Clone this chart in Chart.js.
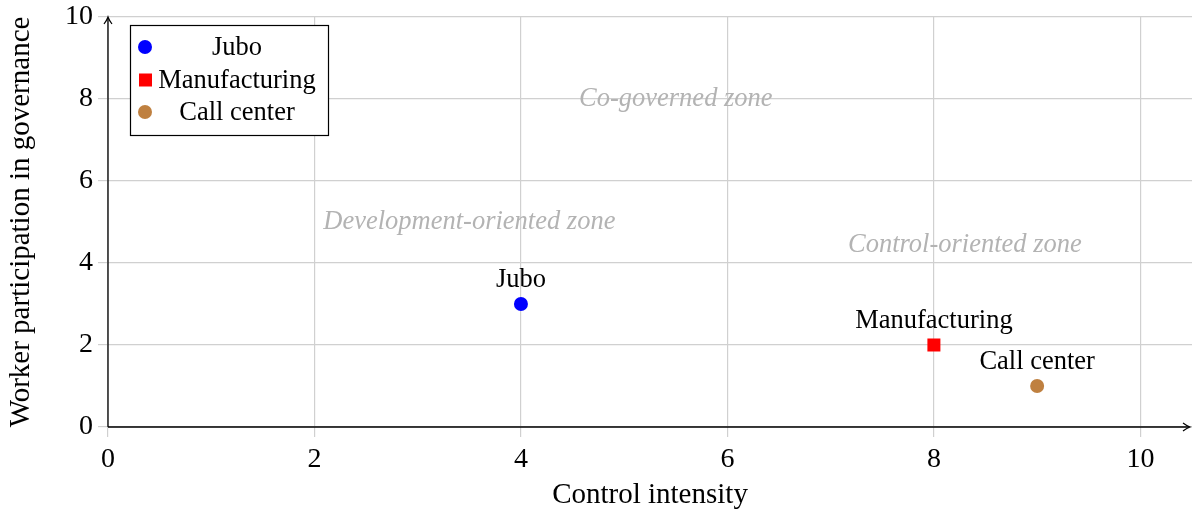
<!DOCTYPE html>
<html><head><meta charset="utf-8">
<script src="https://cdn.jsdelivr.net/npm/chart.js@4.4.1/dist/chart.umd.min.js"></script>
<style>html,body{margin:0;padding:0;background:#fff}#wrap{width:1192px;height:513px}</style>
</head><body><div id="wrap"><canvas id="c" width="1192" height="513"></canvas></div>
<script>
const seriesNames = ["Jubo", "Manufacturing", "Call center"];
const seriesX = [4, 8, 9];
const seriesY = [3, 2, 1];
const seriesColors = ["#0000ff", "#ff0000", "#bf8040"];
const seriesStyles = ["circle", "rect", "circle"];
const xTicks = [0, 2, 4, 6, 8, 10];
const yTicks = [0, 2, 4, 6, 8, 10];
const zoneLabels = ["Co-governed zone", "Development-oriented zone", "Control-oriented zone"];
const zoneX = [5.5, 3.5, 8.3];
const zoneY = [8, 5, 4.45];
const xTitle = "Control intensity";
const yTitle = "Worker participation in governance";

const FONT = "'Liberation Serif', 'Times New Roman', serif";

const datasets = seriesNames.map((n, i) => ({
  label: n,
  data: [{x: seriesX[i], y: seriesY[i]}],
  backgroundColor: seriesColors[i],
  borderColor: seriesColors[i],
  pointStyle: seriesStyles[i],
  pointRadius: seriesStyles[i] === 'rect' ? 9.2 : 7,
  pointHoverRadius: seriesStyles[i] === 'rect' ? 9.2 : 7,
  borderWidth: 0
}));

const overlay = {
  id: 'overlay',
  afterDatasetsDraw(chart) {
    const ctx = chart.ctx, xs = chart.scales.x, ys = chart.scales.y, ca = chart.chartArea;
    ctx.save();
    ctx.font = "italic 26.5px " + FONT;
    ctx.fillStyle = "#b3b3b3";
    ctx.textAlign = "center"; ctx.textBaseline = "middle";
    zoneLabels.forEach((t, i) => ctx.fillText(t, xs.getPixelForValue(zoneX[i]), ys.getPixelForValue(zoneY[i])));
    ctx.font = "26.5px " + FONT;
    ctx.fillStyle = "#000";
    seriesNames.forEach((t, i) => ctx.fillText(t, xs.getPixelForValue(seriesX[i]), ys.getPixelForValue(seriesY[i]) - 24));
    const x0 = xs.getPixelForValue(0), y0 = ys.getPixelForValue(0);
    const xe = ca.right - 2;
    ctx.strokeStyle = "#000"; ctx.fillStyle = "#000"; ctx.lineWidth = 1.3;
    ctx.beginPath(); ctx.moveTo(x0, y0); ctx.lineTo(xe - 1, y0); ctx.stroke();
    ctx.beginPath(); ctx.moveTo(x0, y0); ctx.lineTo(x0, ca.top + 1); ctx.stroke();
    ctx.lineWidth = 1.2;
    ctx.beginPath(); ctx.moveTo(xe - 7, y0 - 4); ctx.quadraticCurveTo(xe - 3, y0 - 1, xe, y0); ctx.quadraticCurveTo(xe - 3, y0 + 1, xe - 7, y0 + 4); ctx.stroke();
    ctx.beginPath(); ctx.moveTo(x0 - 4, ca.top + 7); ctx.quadraticCurveTo(x0 - 1, ca.top + 3, x0, ca.top); ctx.quadraticCurveTo(x0 + 1, ca.top + 3, x0 + 4, ca.top + 7); ctx.stroke();
    const lx = 130, ly = 25, lw = 198, lh = 110;
    ctx.fillStyle = "#fff"; ctx.fillRect(lx, ly, lw, lh);
    ctx.strokeStyle = "#000"; ctx.lineWidth = 1.2; ctx.strokeRect(lx + 0.5, ly + 0.5, lw, lh);
    const rows = [47, 80, 112];
    ctx.font = "26.5px " + FONT;
    seriesNames.forEach((t, i) => {
      ctx.fillStyle = seriesColors[i];
      if (seriesStyles[i] === 'rect') ctx.fillRect(139, rows[i] - 6.5, 13, 13);
      else { ctx.beginPath(); ctx.arc(145, rows[i], 7, 0, Math.PI * 2); ctx.fill(); }
      ctx.fillStyle = "#000"; ctx.textAlign = "center";
      ctx.fillText(t, 237, rows[i] + 1);
    });
    ctx.restore();
  }
};

new Chart(document.getElementById('c'), {
  type: 'scatter',
  data: { datasets },
  options: {
    responsive: false, animation: false, devicePixelRatio: 1,
    layout: { autoPadding: false, padding: { top: 17, right: 0, left: 0, bottom: 0 } },
    plugins: { legend: { display: false }, tooltip: { enabled: false } },
    scales: {
      x: {
        type: 'linear', min: 0, max: 10.5,
        afterBuildTicks: s => { s.ticks = xTicks.map(v => ({ value: v })); },
        afterFit: s => { s.height = 86; s.paddingLeft = 0; s.paddingRight = 0; },
        grid: { color: "#d0d0d0", lineWidth: 1.2, tickLength: 10, drawTicks: true },
        border: { display: false },
        ticks: { color: "#000", font: { family: FONT, size: 28 }, padding: 6, maxRotation: 0 },
        title: { display: true, text: xTitle, color: "#000", font: { family: FONT, size: 29 }, padding: { top: 2, bottom: 0 } }
      },
      y: {
        type: 'linear', min: 0, max: 10,
        afterBuildTicks: s => { s.ticks = yTicks.map(v => ({ value: v })); },
        afterFit: s => { s.width = 108; s.paddingTop = 0; s.paddingBottom = 0; },
        grid: { color: "#d0d0d0", lineWidth: 1.2, tickLength: 10, drawTicks: true },
        border: { display: false },
        ticks: { color: "#000", font: { family: FONT, size: 28 }, padding: 5 },
        title: { display: true, text: yTitle, color: "#000", font: { family: FONT, size: 29 }, padding: { top: 4, bottom: 4 } }
      }
    }
  },
  plugins: [overlay]
});
</script>
</body></html>
